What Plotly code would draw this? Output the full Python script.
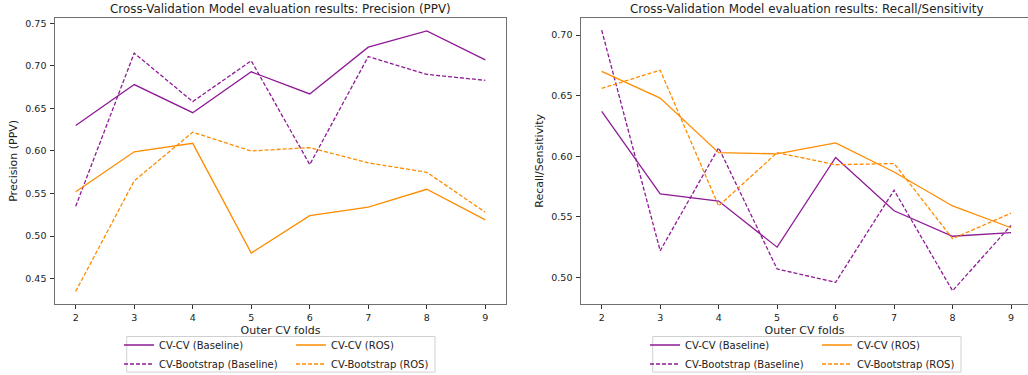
import plotly.graph_objects as go

folds = [2, 3, 4, 5, 6, 7, 8, 9]

# Precision (PPV)
prec_cvcv_base = [0.630, 0.678, 0.645, 0.693, 0.667, 0.722, 0.741, 0.707]
prec_boot_base = [0.535, 0.715, 0.658, 0.706, 0.584, 0.711, 0.690, 0.683]
prec_cvcv_ros = [0.552, 0.599, 0.609, 0.480, 0.524, 0.534, 0.555, 0.519]
prec_boot_ros = [0.435, 0.565, 0.622, 0.600, 0.604, 0.586, 0.575, 0.528]

# Recall / Sensitivity
rec_cvcv_base = [0.637, 0.569, 0.563, 0.525, 0.599, 0.555, 0.534, 0.537]
rec_boot_base = [0.704, 0.522, 0.607, 0.507, 0.496, 0.572, 0.489, 0.543]
rec_cvcv_ros = [0.670, 0.648, 0.603, 0.602, 0.611, 0.587, 0.559, 0.541]
rec_boot_ros = [0.656, 0.671, 0.559, 0.603, 0.593, 0.594, 0.532, 0.553]

names = ["CV-CV (Baseline)", "CV-Bootstrap (Baseline)", "CV-CV (ROS)", "CV-Bootstrap (ROS)"]
PURPLE = "#8e1a96"
ORANGE = "#ff8c00"
W = 1028
H = 375
FONT = "DejaVu Sans"
TXT = "#222222"
SPINE = "#707070"

fig = go.Figure()

def add_series(xref, yref, vals, legs):
    styles = [(PURPLE, "solid"), (PURPLE, "4px,2px"), (ORANGE, "solid"), (ORANGE, "4px,2px")]
    for i, (v, (c, d)) in enumerate(zip(vals, styles)):
        fig.add_trace(go.Scatter(
            x=folds, y=v, mode="lines", name=names[i],
            line=dict(color=c, width=1.3, dash=d),
            xaxis=xref, yaxis=yref,
            legend=legs[0] if i < 2 else legs[1],
        ))

add_series("x", "y", [prec_cvcv_base, prec_boot_base, prec_cvcv_ros, prec_boot_ros], ["legend", "legend2"])
add_series("x2", "y2", [rec_cvcv_base, rec_boot_base, rec_cvcv_ros, rec_boot_ros], ["legend3", "legend4"])

def px_x(p):
    return p / W

def px_y(p):
    return 1 - p / H

ydom = [px_y(304), px_y(17.7)]

axis_common = dict(
    showgrid=False, zeroline=False, showline=True, linecolor=SPINE, linewidth=1.3,
    ticks="outside", ticklen=3.5, tickwidth=1, tickcolor="#333333",
    tickfont=dict(family=FONT, size=9.5, color=TXT),
    title_font=dict(family=FONT, size=11, color=TXT),
)

legend_common = dict(
    orientation="v", xanchor="left", yanchor="top", bgcolor="rgba(0,0,0,0)",
    borderwidth=0, font=dict(family=FONT, size=10, color=TXT), itemwidth=30,
    tracegroupgap=0,
)

fig.update_layout(
    width=W, height=H, margin=dict(l=0, r=0, t=0, b=0, autoexpand=False),
    paper_bgcolor="white", plot_bgcolor="white",
    font=dict(family=FONT, color=TXT),
    xaxis=dict(domain=[px_x(55), px_x(506)], range=[1.646, 9.354], mirror=True,
               tickvals=folds, ticklabelstandoff=1,
               title=dict(text="Outer CV folds", standoff=4), anchor="y", **axis_common),
    yaxis=dict(domain=ydom, range=[0.4202, 0.7566], mirror=True,
               tickvals=[0.45, 0.50, 0.55, 0.60, 0.65, 0.70, 0.75], tickformat=".2f",
               ticklabelstandoff=2,
               title=dict(text="Precision (PPV)", standoff=5), anchor="x", **axis_common),
    xaxis2=dict(domain=[px_x(581), 1.0], range=[1.646, 9.29], mirror=True,
                tickvals=folds, ticklabelstandoff=1,
                title=dict(text="Outer CV folds", standoff=4), anchor="y2", **axis_common),
    yaxis2=dict(domain=ydom, range=[0.4781, 0.7143], mirror=False,
                tickvals=[0.50, 0.55, 0.60, 0.65, 0.70], tickformat=".2f",
                ticklabelstandoff=2,
                title=dict(text="Recall/Sensitivity", standoff=5), anchor="x2", **axis_common),
    legend=dict(x=px_x(119), y=px_y(330.5), **legend_common),
    legend2=dict(x=px_x(291), y=px_y(330.5), **legend_common),
    legend3=dict(x=px_x(645), y=px_y(330.5), **legend_common),
    legend4=dict(x=px_x(817), y=px_y(330.5), **legend_common),
    showlegend=True,
)

# legend frames
for x0, x1 in [(126.7, 435), (652.7, 961)]:
    fig.add_shape(type="rect", xref="paper", yref="paper",
                  x0=px_x(x0), x1=px_x(x1), y0=px_y(372), y1=px_y(336.5),
                  line=dict(color="#d0d0d0", width=1), fillcolor="rgba(0,0,0,0)")

titles = [("Cross-Validation Model evaluation results: Precision (PPV)", 280.5),
          ("Cross-Validation Model evaluation results: Recall/Sensitivity", 806.5)]
for t, cx in titles:
    fig.add_annotation(text=t, x=px_x(cx), y=px_y(9.5), xref="paper", yref="paper",
                       xanchor="center", yanchor="middle", showarrow=False,
                       font=dict(family=FONT, size=11.9, color=TXT))

fig.write_html("out.html")
